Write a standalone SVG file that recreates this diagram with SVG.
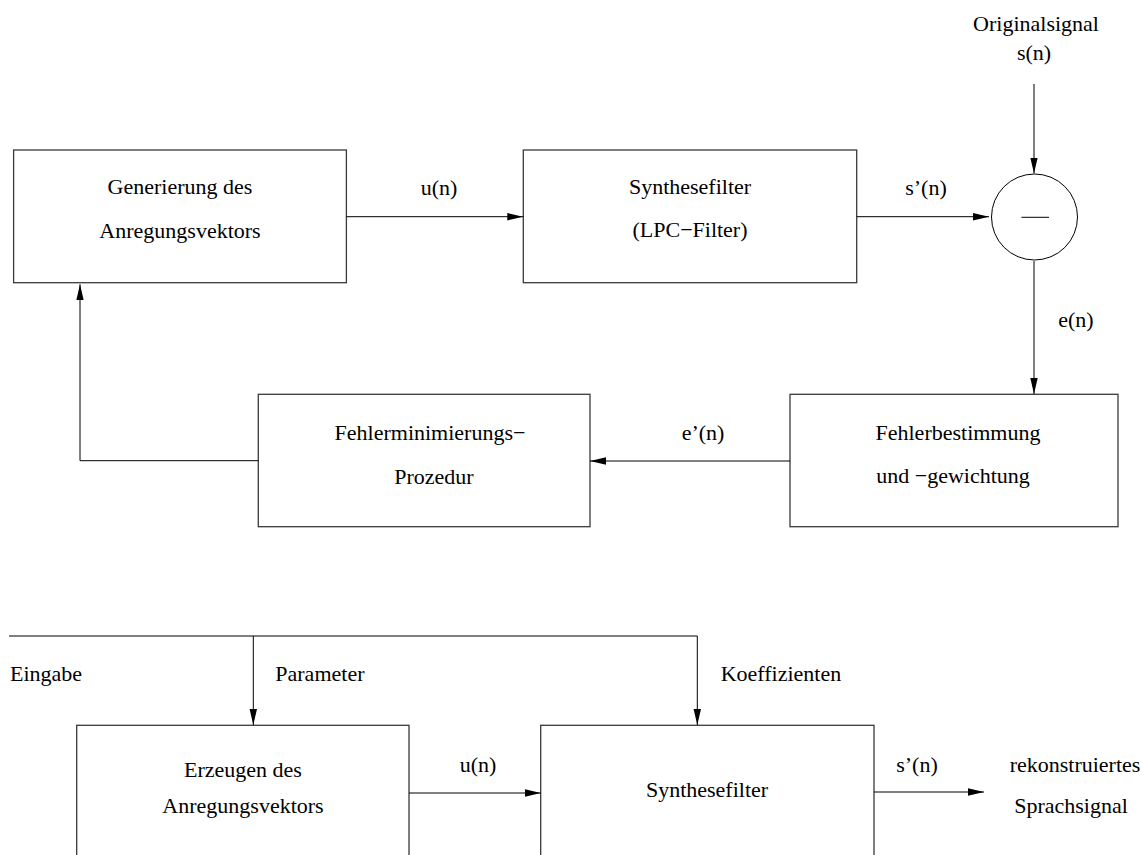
<svg xmlns="http://www.w3.org/2000/svg" width="1142" height="855" viewBox="0 0 1142 855">
  <style>
    .box { fill: none; stroke: #3a3a3a; stroke-width: 1.3; }
    .wire { fill: none; stroke: #000; stroke-width: 1; }
    .arrow { marker-end: url(#head); }
    text { font-family: "Liberation Serif", "Times New Roman", serif; font-size: 22px; fill: #000; }
    .c { text-anchor: middle; }
  </style>
  <defs>
    <marker id="head" markerUnits="userSpaceOnUse" markerWidth="16" markerHeight="8" refX="16" refY="4" orient="auto">
      <path d="M0,0.3 L16,4 L0,7.7 Z" fill="#000"/>
    </marker>
  </defs>
  <rect width="1142" height="855" fill="#fff"/>

  <!-- analysis-by-synthesis loop -->
  <g id="gen-anregung">
    <rect class="box" x="13.6" y="150" width="332.8" height="132.7"/>
    <text class="c" x="180" y="194">Generierung des</text>
    <text class="c" x="180" y="238">Anregungsvektors</text>
  </g>
  <g id="synthesefilter-lpc">
    <rect class="box" x="523.3" y="150" width="333.4" height="132.7"/>
    <text class="c" x="690" y="194">Synthesefilter</text>
    <text class="c" x="690" y="237">(LPC−Filter)</text>
  </g>
  <g id="differenz">
    <circle cx="1034.5" cy="217" r="43" fill="none" stroke="#000" stroke-width="1"/>
    <line x1="1021.5" y1="217.3" x2="1049" y2="217.3" stroke="#000" stroke-width="1"/>
  </g>
  <g id="originalsignal">
    <text class="c" x="1036" y="31">Originalsignal</text>
    <text class="c" x="1034" y="60">s(n)</text>
  </g>
  <g id="fehlerbestimmung">
    <rect class="box" x="790" y="394.3" width="328" height="132.4"/>
    <text class="c" x="958" y="440">Fehlerbestimmung</text>
    <text class="c" x="953" y="483">und −gewichtung</text>
  </g>
  <g id="fehlerminimierung">
    <rect class="box" x="258.3" y="394.3" width="331.7" height="132.4"/>
    <text class="c" x="430" y="440">Fehlerminimierungs−</text>
    <text class="c" x="434" y="484">Prozedur</text>
  </g>

  <!-- decoder -->
  <g id="erzeugen-anregung">
    <rect class="box" x="76.7" y="725.3" width="332.3" height="150"/>
    <text class="c" x="243" y="777">Erzeugen des</text>
    <text class="c" x="243" y="813">Anregungsvektors</text>
  </g>
  <g id="synthesefilter">
    <rect class="box" x="540.7" y="725.3" width="333.3" height="150"/>
    <text class="c" x="707" y="797">Synthesefilter</text>
  </g>
  <g id="ausgabe">
    <text class="c" x="1075" y="772">rekonstruiertes</text>
    <text class="c" x="1071" y="813">Sprachsignal</text>
  </g>

  <g id="connectors">
    <line class="wire arrow" x1="346.4" y1="216.7" x2="523.3" y2="216.7"/>
    <line class="wire arrow" x1="856.7" y1="216.7" x2="989" y2="216.7"/>
    <line class="wire arrow" x1="1034" y1="84" x2="1034" y2="173.5"/>
    <line class="wire arrow" x1="1034" y1="261" x2="1034" y2="394"/>
    <line class="wire arrow" x1="790" y1="461" x2="590" y2="461"/>
    <polyline class="wire arrow" points="258.3,460.7 80,460.7 80,284.3"/>

    <polyline class="wire" points="9,636 697.3,636"/>
    <line class="wire arrow" x1="253.3" y1="636" x2="253.3" y2="725"/>
    <line class="wire arrow" x1="697.3" y1="636" x2="697.3" y2="725"/>
    <line class="wire arrow" x1="409" y1="793" x2="540.7" y2="793"/>
    <line class="wire arrow" x1="874" y1="792" x2="984" y2="792"/>

    <text class="c" x="439" y="195">u(n)</text>
    <text class="c" x="926" y="195">s’(n)</text>
    <text class="c" x="1076" y="327">e(n)</text>
    <text class="c" x="703" y="440">e’(n)</text>
    <text x="10" y="681">Eingabe</text>
    <text x="275.3" y="681">Parameter</text>
    <text x="720.7" y="681">Koeffizienten</text>
    <text class="c" x="478" y="772">u(n)</text>
    <text class="c" x="917" y="772">s’(n)</text>
  </g>
</svg>
